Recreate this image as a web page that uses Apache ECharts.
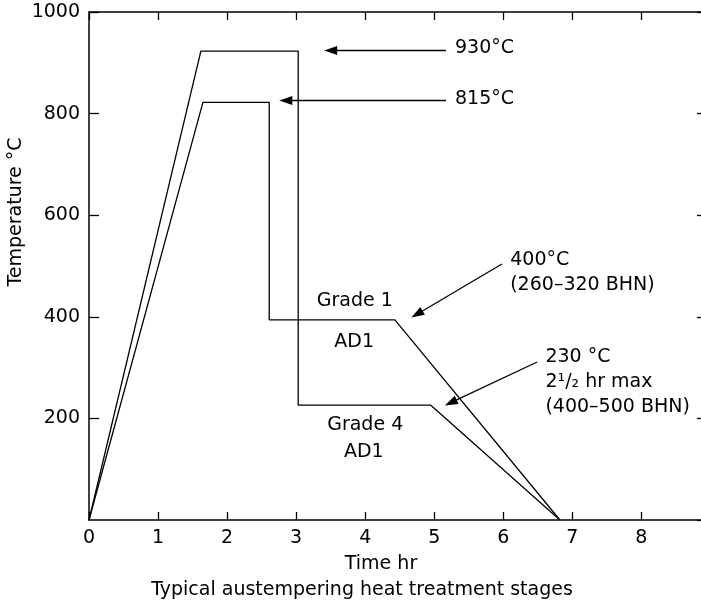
<!DOCTYPE html>
<html>
<head>
<meta charset="utf-8">
<script src="https://cdn.jsdelivr.net/npm/echarts@6/dist/echarts.min.js"></script>
<style>
  html, body { margin: 0; padding: 0; background: #fff; overflow: hidden; }
  /* a little wider than the window: the right-hand frame falls just past the edge */
  #chart { width: 707px; height: 606px; }
</style>
</head>
<body>
<div id="chart"></div>
<script>
// Time (hr) and temperature (°C)
const grade1Time = [0, 1.65, 2.61, 2.61, 4.43, 6.82];
const grade1Temp = [0, 822, 822, 394, 394, 0];
const grade4Time = [0, 1.62, 3.03, 3.03, 4.95, 6.82];
const grade4Temp = [0, 923, 923, 226, 226, 0];

const xTicks = [0, 1, 2, 3, 4, 5, 6, 7, 8];
const yTicks = [200, 400, 600, 800, 1000];

// arrows: [fromTime, fromTemp, toTime, toTemp]
const arrows = [
  [5.17, 924, 3.50, 924],
  [5.17, 826, 2.85, 826],
  [5.98, 504, 4.75, 405],
  [6.49, 311, 5.24, 231]
];

// callout texts (left aligned) and stage labels (centred)
const calloutTime = [5.30, 5.30, 6.10, 6.61];
const calloutTemp = [929, 829, 488, 272];
const calloutText = ['930°C', '815°C', '400°C\n(260–320 BHN)', '230 °C\n2¹/₂ hr max\n(400–500 BHN)'];

const stageTime = [3.85, 3.84, 4.00, 3.98];
const stageTemp = [430, 350, 186, 133];
const stageText = ['Grade 1', 'AD1', 'Grade 4', 'AD1'];

const FONT = 'DejaVu Sans';
const FS = 19;
const chart = echarts.init(document.getElementById('chart'), null, { renderer: 'canvas' });

const pairs = (xs, ys) => xs.map((x, i) => [x, ys[i]]);
const lineStyle = { color: '#000', width: 1.3 };
const axisLine = { show: true, onZero: false, lineStyle: { color: '#000', width: 1.5 } };
const tick = len => ({ inside: true, length: len, lineStyle: { color: '#000', width: 1.3 } });

chart.setOption({
  animation: false,
  textStyle: { fontFamily: FONT },
  grid: { left: 89, top: 12, right: 0, bottom: 86, containLabel: false },
  xAxis: [
    {
      type: 'value', min: 0, max: 8.95, interval: 1, position: 'bottom',
      axisLine: axisLine, axisTick: tick(8),
      axisLabel: { color: '#000', fontSize: FS, fontFamily: FONT, margin: 9, showMaxLabel: false,
        formatter: v => xTicks.includes(v) ? String(v) : '' },
      splitLine: { show: false }
    },
    {
      type: 'value', min: 0, max: 8.95, interval: 1, position: 'top',
      axisLine: axisLine, axisTick: tick(8),
      axisLabel: { show: false },
      splitLine: { show: false }
    }
  ],
  yAxis: [
    {
      type: 'value', min: 0, max: 1000, interval: 200, position: 'left',
      axisLine: axisLine, axisTick: tick(10),
      axisLabel: { color: '#000', fontSize: FS, fontFamily: FONT, margin: 9, showMinLabel: false,
        formatter: v => yTicks.includes(v) ? String(v) : '' },
      splitLine: { show: false }
    },
    {
      type: 'value', min: 0, max: 1000, interval: 200, position: 'right',
      axisLine: axisLine, axisTick: tick(10),
      axisLabel: { show: false },
      splitLine: { show: false }
    }
  ],
  graphic: [
    { type: 'text', x: 381, y: 564, style: { text: 'Time hr', font: FS + 'px "DejaVu Sans"', fill: '#000', align: 'center', verticalAlign: 'middle' } },
    { type: 'text', x: 362, y: 590, style: { text: 'Typical austempering heat treatment stages', font: FS + 'px "DejaVu Sans"', fill: '#000', align: 'center', verticalAlign: 'middle' } },
    { type: 'text', x: 16, y: 212, rotation: Math.PI / 2, style: { text: 'Temperature °C', font: FS + 'px "DejaVu Sans"', fill: '#000', align: 'center', verticalAlign: 'middle' } }
  ],
  series: [
    {
      name: 'Grade 1', type: 'line', data: pairs(grade1Time, grade1Temp),
      symbol: 'none', lineStyle: lineStyle, z: 3,
      markLine: {
        silent: true, animation: false,
        symbol: ['none', 'triangle'], symbolSize: [9, 13],
        label: { show: false },
        lineStyle: { color: '#000', width: 1.3, type: 'solid' },
        data: arrows.map(a => [{ coord: [a[0], a[1]] }, { coord: [a[2], a[3]] }])
      }
    },
    {
      name: 'Grade 4', type: 'line', data: pairs(grade4Time, grade4Temp),
      symbol: 'none', lineStyle: lineStyle, z: 3
    },
    {
      name: 'callouts', type: 'scatter', symbolSize: 0, silent: true,
      itemStyle: { opacity: 1 },
      data: calloutTime.map((t, i) => [t, calloutTemp[i], calloutText[i]]),
      label: {
        show: true, position: 'right', distance: 0, color: '#000',
        fontSize: FS, fontFamily: FONT, lineHeight: 25, align: 'left',
        formatter: p => p.value[2]
      }
    },
    {
      name: 'stages', type: 'scatter', symbolSize: 0, silent: true,
      itemStyle: { opacity: 1 },
      data: stageTime.map((t, i) => [t, stageTemp[i], stageText[i]]),
      label: {
        show: true, position: 'inside', color: '#000',
        fontSize: FS, fontFamily: FONT,
        formatter: p => p.value[2]
      }
    }
  ]
});
</script>
</body>
</html>
